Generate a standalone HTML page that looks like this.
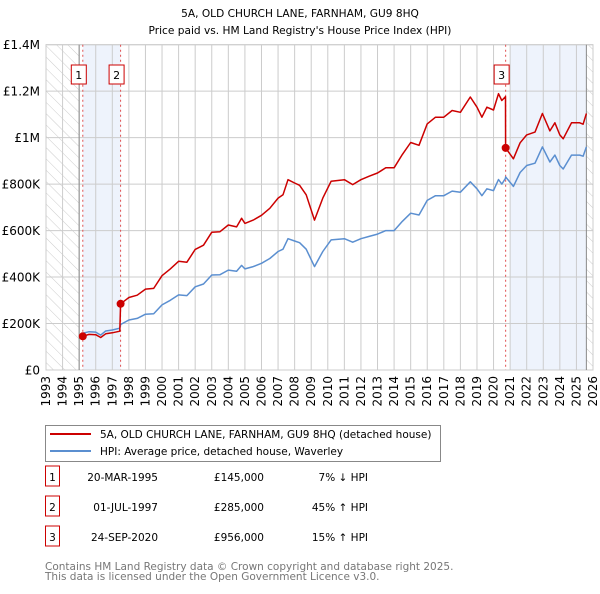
<!DOCTYPE html>
<html><head><meta charset="utf-8"><style>
body{margin:0;background:#fff;width:600px;height:590px;overflow:hidden;font-family:"DejaVu Sans","Liberation Sans",sans-serif;}
svg text{font-family:"DejaVu Sans","Liberation Sans",sans-serif;}
</style></head><body>
<svg id="chart" width="600" height="590" xmlns="http://www.w3.org/2000/svg">
<defs><pattern id="hatch" patternUnits="userSpaceOnUse" width="8" height="8" patternTransform="rotate(-45)"><line x1="0" y1="0" x2="0" y2="8" stroke="#ccc" stroke-width="1"/></pattern></defs>
<text x="300" y="17" text-anchor="middle" font-size="10.6">5A, OLD CHURCH LANE, FARNHAM, GU9 8HQ</text>
<text x="300" y="34" text-anchor="middle" font-size="10.6">Price paid vs. HM Land Registry's House Price Index (HPI)</text>
<g id="plot"></g>
<g>
<rect x="45.5" y="425.5" width="395" height="36" fill="#fff" stroke="#888"/>
<line x1="50" y1="434" x2="91" y2="434" stroke="#cc0000" stroke-width="2"/>
<text x="100" y="438" font-size="10.5">5A, OLD CHURCH LANE, FARNHAM, GU9 8HQ (detached house)</text>
<line x1="50" y1="451" x2="91" y2="451" stroke="#5b8fd0" stroke-width="2"/>
<text x="100" y="455" font-size="10.5">HPI: Average price, detached house, Waverley</text>
</g>
<g id="table" font-size="10.5"></g>
<text x="45" y="570" font-size="10.5" fill="#777">Contains HM Land Registry data © Crown copyright and database right 2025.</text>
<text x="45" y="580" font-size="10.5" fill="#777">This data is licensed under the Open Government Licence v3.0.</text>
</svg>
<script>
const years=[1995.2,1995.6,1996.0,1996.3,1996.6,1997.0,1997.45,1997.5,1998.0,1998.5,1999.0,1999.5,2000.0,2000.5,2001.0,2001.5,2002.0,2002.5,2003.0,2003.5,2004.0,2004.5,2004.8,2005.0,2005.5,2006.0,2006.5,2007.0,2007.3,2007.6,2008.0,2008.3,2008.7,2009.2,2009.7,2010.2,2011.0,2011.5,2012.0,2012.5,2013.0,2013.5,2014.0,2014.5,2015.0,2015.5,2016.0,2016.5,2017.0,2017.5,2018.0,2018.6,2019.0,2019.3,2019.6,2020.0,2020.3,2020.5,2020.72,2020.73,2021.2,2021.6,2022.0,2022.5,2022.95,2023.4,2023.7,2024.0,2024.2,2024.7,2025.2,2025.4,2025.6];
const hpiValues=[.158,.165,.163,.150,.168,.172,.180,.196,.215,.222,.240,.242,.280,.300,.323,.320,.358,.370,.409,.410,.430,.425,.450,.435,.445,.459,.480,.510,.520,.565,.555,.548,.520,.445,.510,.560,.565,.550,.565,.575,.585,.600,.600,.640,.675,.667,.730,.750,.750,.770,.765,.810,.780,.750,.780,.772,.820,.800,.825,.831,.790,.850,.880,.890,.960,.895,.925,.880,.865,.925,.925,.920,.960];
const priceValues=[.145,.153,.152,.140,.156,.160,.167,.285,.312,.322,.348,.351,.406,.435,.468,.464,.519,.537,.593,.595,.624,.616,.653,.631,.645,.666,.696,.740,.754,.819,.805,.795,.754,.645,.740,.812,.819,.798,.819,.834,.848,.870,.870,.928,.979,.967,1.059,1.088,1.088,1.117,1.109,1.175,1.131,1.088,1.131,1.119,1.189,1.160,1.176,.956,.909,.978,1.012,1.024,1.104,1.029,1.064,1.012,.995,1.064,1.064,1.058,1.104];
const saleYears=[1995.22,1997.5,2020.73];
const salePrices=[.145,.285,.956];
const saleLabels=["1","2","3"];
const saleDates=["20-MAR-1995","01-JUL-1997","24-SEP-2020"];
const salePriceText=["£145,000","£285,000","£956,000"];
const saleHpiText=["7% ↓ HPI","45% ↑ HPI","15% ↑ HPI"];
const yTicks=[0,0.2,0.4,0.6,0.8,1.0,1.2,1.4];
const yTickLabels=["£0","£200K","£400K","£600K","£800K","£1M","£1.2M","£1.4M"];

const NS="http://www.w3.org/2000/svg";
const L=46,R=593,T=44.7,B=370;
const X=y=>L+(y-1993)*(R-L)/33;
const Y=v=>B-v*(B-T)/1.4;
const plot=document.getElementById('plot');
function mk(tag,attrs,parent){const e=document.createElementNS(NS,tag);for(const k in attrs)e.setAttribute(k,attrs[k]);(parent||plot).appendChild(e);return e;}
let e;
e=mk('rect',{x:L,y:T,width:R-L,height:B-T,fill:'#fff'});


e=mk('rect',{x:X(1995.22),y:T,width:X(1997.5)-X(1995.22),height:B-T,fill:'#eef3fc'});


e=mk('rect',{x:X(2021),y:T,width:X(2025.6)-X(2021),height:B-T,fill:'#eef3fc'});


e=mk('rect',{x:L,y:T,width:X(1995)-L,height:B-T,fill:'url(#hatch)'});


e=mk('rect',{x:X(2025.6),y:T,width:R-X(2025.6),height:B-T,fill:'url(#hatch)'});


for(let yr=1993;yr<=2026;yr++){
 e=mk('line',{x1:X(yr),x2:X(yr),y1:T,y2:B,stroke:'#cccccc','stroke-width':1});
 
 
 e=mk('text',{x:0,y:0,'font-size':12,'text-anchor':'end',transform:`translate(${X(yr)+4},${B+6}) rotate(-90)`});
 e.textContent=yr;
 
 
}
yTicks.forEach((v,i)=>{
 e=mk('line',{x1:L,x2:R,y1:Y(v),y2:Y(v),stroke:'#cccccc','stroke-width':1});
 
 
 e=mk('text',{x:40,y:Y(v)+4.5,'font-size':12,'text-anchor':'end'});
 e.textContent=yTickLabels[i];
 
 
});
e=mk('rect',{x:L,y:T,width:R-L,height:B-T,fill:'none',stroke:'#ccc'});


e=mk('line',{x1:X(1995),x2:X(1995),y1:T,y2:B,stroke:'#888'});


e=mk('line',{x1:X(2025.6),x2:X(2025.6),y1:T,y2:B,stroke:'#888'});


saleYears.forEach((s,i)=>{
 e=mk('line',{x1:X(s),x2:X(s),y1:T,y2:B,stroke:'#e05050','stroke-dasharray':'2,3'});
 
 
});
const pts=a=>years.map((yr,i)=>X(yr).toFixed(1)+','+Y(a[i]).toFixed(1)).join(' ');
e=mk('polyline',{points:pts(hpiValues),fill:'none',stroke:'#5b8fd0','stroke-width':1.5,'stroke-linejoin':'round'});


e=mk('polyline',{points:pts(priceValues),fill:'none',stroke:'#cc0000','stroke-width':1.5,'stroke-linejoin':'round'});


saleYears.forEach((s,i)=>{
 e=mk('circle',{cx:X(s),cy:Y(salePrices[i]),r:4,fill:'#cc0000'});
 
 
 e=mk('rect',{x:X(s)-11.5,y:65,width:15,height:19,fill:'#fff',stroke:'#cc0000'});
 
 
 e=mk('text',{x:X(s)-4,y:79,'font-size':11,'text-anchor':'middle'});
 e.textContent=saleLabels[i];
 
 
});
const tbl=document.getElementById('table');
saleLabels.forEach((lab,i)=>{
 const yy=483+30*i;
 e=mk('rect',{x:45.5,y:yy-17,width:14,height:20,fill:'#fff',stroke:'#cc0000'},tbl);
 
 
 e=mk('text',{x:52.5,y:yy-2,'text-anchor':'middle'},tbl);e.textContent=lab;
 
 
 e=mk('text',{x:158,y:yy-2,'text-anchor':'end'},tbl);e.textContent=saleDates[i];
 
 
 e=mk('text',{x:264,y:yy-2,'text-anchor':'end'},tbl);e.textContent=salePriceText[i];
 
 
 e=mk('text',{x:368,y:yy-2,'text-anchor':'end'},tbl);e.textContent=saleHpiText[i];
 
 
});
</script>
</body></html>
